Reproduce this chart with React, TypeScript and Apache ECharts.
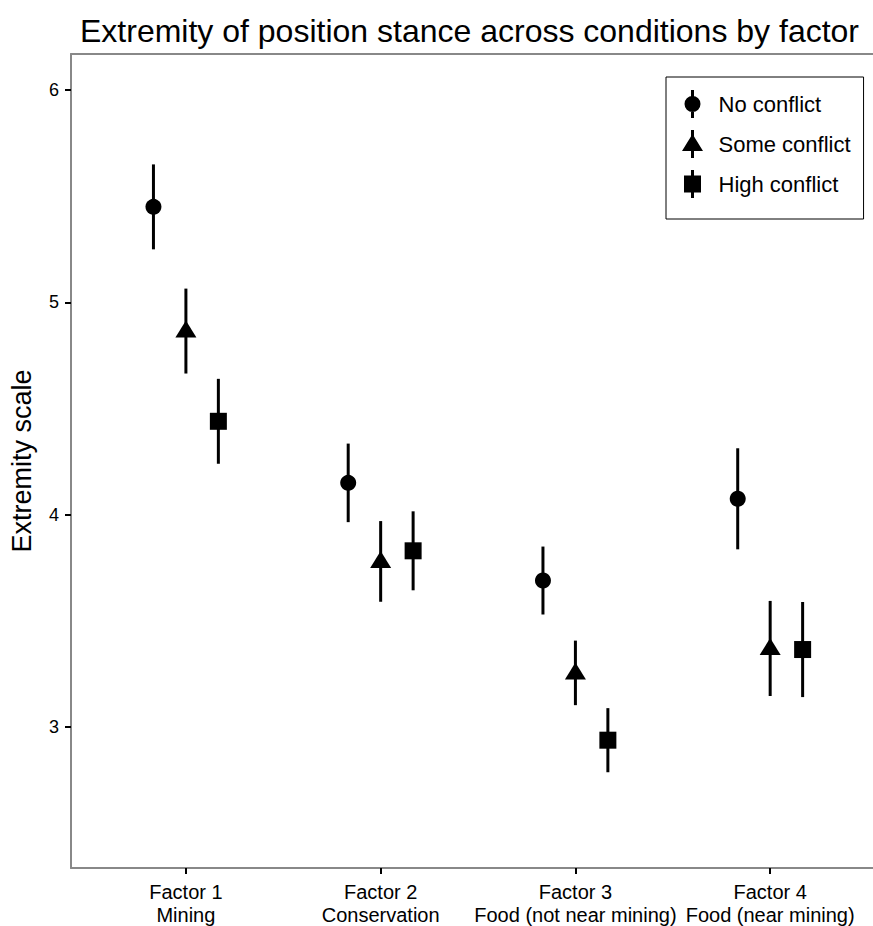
import React, { useEffect, useRef } from "react";
import * as echarts from "echarts";

const categories = [
  "Factor 1\nMining",
  "Factor 2\nConservation",
  "Factor 3\nFood (not near mining)",
  "Factor 4\nFood (near mining)",
];
const conditionNames = ["No conflict", "Some conflict", "High conflict"];
const noConflictMean = [5.45, 4.15, 3.69, 4.075];
const noConflictErr = [0.2, 0.185, 0.16, 0.238];
const someConflictMean = [4.865, 3.78, 3.255, 3.37];
const someConflictErr = [0.2, 0.19, 0.152, 0.224];
const highConflictMean = [4.44, 3.83, 2.938, 3.365];
const highConflictErr = [0.2, 0.186, 0.151, 0.224];
const yTicks = [3, 4, 5, 6];
const xTicks = [1, 2, 3, 4];

const FONT = "'Liberation Sans', Arial, sans-serif";
const DODGE = 1 / 6;

const iconCircle =
  "path://M6.5 0H9.5V28H6.5Z M0 14A8 8 0 1 1 16 14A8 8 0 1 1 0 14Z";
const iconTriangle = "path://M9 0H12V28H9Z M10.5 4L21 21L0 21Z";
const iconSquare = "path://M7 0H10V28H7Z M0 5.5H17V22.5H0Z";

export default function App() {
  const ref = useRef<HTMLDivElement>(null);
  useEffect(() => {
    if (!ref.current) return;
    const chart = echarts.init(ref.current, undefined, { renderer: "svg" });
    const groups = [
      { name: conditionNames[0], mean: noConflictMean, err: noConflictErr, off: -DODGE, symbol: "circle", size: 16, offset: [0, 0] },
      { name: conditionNames[1], mean: someConflictMean, err: someConflictErr, off: 0, symbol: "triangle", size: [21, 17], offset: [0, -2] },
      { name: conditionNames[2], mean: highConflictMean, err: highConflictErr, off: DODGE, symbol: "rect", size: 17, offset: [0, 0] },
    ];
    const series: any[] = [];
    groups.forEach((g, gi) => {
      series.push({
        type: "custom",
        name: "eb" + gi,
        data: g.mean.map((m, i) => [i + 1 + g.off, m - g.err[i], m + g.err[i]]),
        renderItem: (params: any, api: any) => {
          const p1 = api.coord([api.value(0), api.value(1)]);
          const p2 = api.coord([api.value(0), api.value(2)]);
          return {
            type: "line",
            shape: { x1: p1[0], y1: p1[1], x2: p2[0], y2: p2[1] },
            style: { stroke: "#000", lineWidth: 3 },
          };
        },
        silent: true,
        z: 2,
      });
    });
    groups.forEach((g) => {
      series.push({
        type: "scatter",
        name: g.name,
        data: g.mean.map((m, i) => [i + 1 + g.off, m]),
        symbol: g.symbol,
        symbolSize: g.size,
        symbolOffset: g.offset,
        itemStyle: { color: "#000", opacity: 1 },
        z: 3,
      });
    });
    const frameLine = { show: true, lineStyle: { color: "#888", width: 2 } };
    chart.setOption({
      animation: false,
      backgroundColor: "#fff",
      title: {
        text: "Extremity of position stance across conditions by factor",
        left: 75,
        top: 10,
        textStyle: { fontFamily: FONT, fontSize: 32, fontWeight: "normal", color: "#000" },
      },
      legend: {
        orient: "vertical",
        left: 666,
        top: 77,
        itemWidth: 42,
        itemHeight: 28,
        itemGap: 12,
        padding: [13, 13, 21, 16],
        borderColor: "#000",
        borderWidth: 1,
        backgroundColor: "#fff",
        textStyle: { fontFamily: FONT, fontSize: 22, color: "#000" },
        data: [
          { name: conditionNames[0], icon: iconCircle, itemStyle: { color: "#000" } },
          { name: conditionNames[1], icon: iconTriangle, itemStyle: { color: "#000" } },
          { name: conditionNames[2], icon: iconSquare, itemStyle: { color: "#000" } },
        ],
      },
      grid: {
        left: 68,
        top: 54,
        right: 0,
        bottom: 58,
        show: false,
      },
      xAxis: [
        {
          type: "value",
          min: 0.41,
          max: 4.528,
          splitLine: { show: false },
          axisLine: frameLine,
          axisTick: {
            show: true,
            length: 6,
            customValues: xTicks,
            lineStyle: { color: "#000", width: 2 },
          },
          axisLabel: {
            customValues: xTicks,
            formatter: (v: number) => categories[Math.round(v) - 1] ?? "",
            fontFamily: FONT,
            fontSize: 20,
            lineHeight: 23,
            color: "#000",
            margin: 12,
          },
        },
        {
          type: "value",
          position: "top",
          min: 0.41,
          max: 4.528,
          splitLine: { show: false },
          axisLine: frameLine,
          axisTick: { show: false },
          axisLabel: { show: false },
        },
      ],
      yAxis: {
        type: "value",
        min: 2.336,
        max: 6.17,
        name: "Extremity scale",
        nameLocation: "middle",
        nameRotate: 90,
        nameGap: 36,
        nameTextStyle: { fontFamily: FONT, fontSize: 27, color: "#000" },
        splitLine: { show: false },
        axisLine: frameLine,
        axisTick: {
          show: true,
          length: 6,
          customValues: yTicks,
          lineStyle: { color: "#000", width: 2 },
        },
        axisLabel: {
          customValues: yTicks,
          fontFamily: FONT,
          fontSize: 18,
          color: "#000",
          margin: 12,
        },
      },
      series,
    });
    return () => chart.dispose();
  }, []);
  return (
    <div
      ref={ref}
      style={{ width: 873, height: 926, position: "absolute", left: 0, top: 0 }}
    />
  );
}
